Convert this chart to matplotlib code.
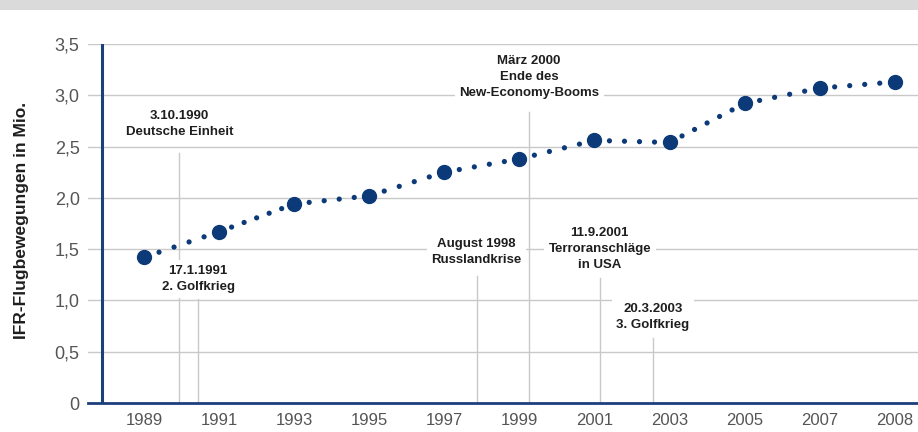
import math

import matplotlib
matplotlib.use("Agg")
import matplotlib.pyplot as plt
from matplotlib.patches import Rectangle

# IFR flight movements (millions) per year label
years = ["1989", "1991", "1993", "1995", "1997", "1999", "2001", "2003", "2005", "2007", "2008"]
movements = [1.42, 1.67, 1.94, 2.02, 2.25, 2.38, 2.56, 2.54, 2.92, 3.07, 3.13]

# events: position on the category axis, label text, text line heights, line top
event_pos = [0.47, 0.72, 4.43, 5.13, 6.07, 6.78]
event_text = [
    "3.10.1990\nDeutsche Einheit",
    "17.1.1991\n2. Golfkrieg",
    "August 1998\nRusslandkrise",
    "März 2000\nEnde des\nNew-Economy-Booms",
    "11.9.2001\nTerroranschläge\nin USA",
    "20.3.2003\n3. Golfkrieg",
]
event_text_y = [2.72, 1.21, 1.47, 3.18, 1.50, 0.84]
event_line_top = [2.44, 1.01, 1.24, 2.84, 1.22, 0.63]

y_ticks = [0, 0.5, 1.0, 1.5, 2.0, 2.5, 3.0, 3.5]
y_labels = ["0", "0,5", "1,0", "1,5", "2,0", "2,5", "3,0", "3,5"]

NAVY = "#0c3a78"
SPINE = "#1d3f7c"
GRID = "#c9c9c9"
DOT_LW = 3.8      # small dot diameter in points
DOT_STEP = 14.5   # wanted distance between small dots in pixels

plt.rcParams["font.family"] = ["Liberation Sans", "DejaVu Sans"]

fig = plt.figure(figsize=(9.18, 4.32), dpi=100)
fig.patches.append(Rectangle((0, 422 / 432), 1, 10 / 432, transform=fig.transFigure,
                             facecolor="#dadada", edgecolor="none", zorder=0))

ax = fig.add_axes([88 / 918, 29 / 432, 830 / 918, 359 / 432])
x = list(range(len(years)))

ax.set_xlim(-0.746, 10.31)
ax.set_ylim(0, 3.5)

for s in ["top", "right", "left"]:
    ax.spines[s].set_visible(False)
ax.spines["bottom"].set_color(SPINE)
ax.spines["bottom"].set_linewidth(2)
ax.spines["bottom"].set_zorder(5)
ax.axvline(-0.559, color=SPINE, linewidth=2.2, zorder=5)

ax.set_yticks(y_ticks)
ax.set_yticklabels(y_labels)
ax.set_xticks(x)
ax.set_xticklabels(years)
ax.tick_params(axis="y", length=0, pad=6, labelsize=13, labelcolor="#555555")
ax.tick_params(axis="x", length=0, pad=7, labelsize=12, labelcolor="#555555")
for yv in y_ticks[1:]:
    ax.axhline(yv, color=GRID, linewidth=1.0, zorder=1)

# event markers
for pos, txt, ty, top in zip(event_pos, event_text, event_text_y, event_line_top):
    ax.plot([pos, pos], [0, top], color=GRID, linewidth=1.0, zorder=2)
    ax.text(pos, ty, txt, ha="center", va="center", fontsize=9.5, fontweight="bold",
            color="#1e1e1e", linespacing=1.45, zorder=3,
            bbox=dict(boxstyle="square,pad=0.35", facecolor="white", edgecolor="none"))

# dotted connection: each segment gets evenly spaced small dots
for i in range(len(x) - 1):
    p0 = ax.transData.transform((x[i], movements[i]))
    p1 = ax.transData.transform((x[i + 1], movements[i + 1]))
    seg_px = math.hypot(p1[0] - p0[0], p1[1] - p0[1])
    n = max(1, round(seg_px / DOT_STEP))
    gap = (seg_px / n) * 72 / fig.dpi / DOT_LW
    ax.plot(x[i:i + 2], movements[i:i + 2], color=NAVY, linewidth=DOT_LW,
            linestyle=(0, (0.001, gap)), dash_capstyle="round", zorder=6)
ax.plot(x, movements, linestyle="none", marker="o", markersize=10,
        color=NAVY, zorder=7)

fig.text(22 / 918, 1 - 220 / 432, "IFR-Flugbewegungen in Mio.",
         rotation=90, ha="center", va="center", fontsize=12.5, fontweight="bold",
         color="#1e1e1e")

fig.savefig("out.png", dpi=100)
